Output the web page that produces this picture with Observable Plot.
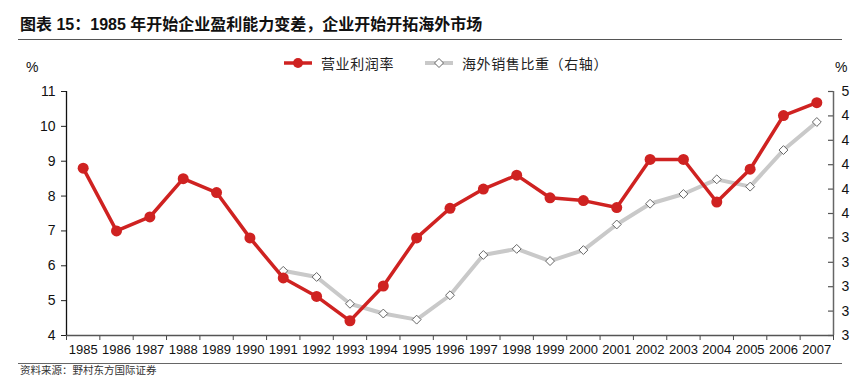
<!DOCTYPE html>
<html>
<head>
<meta charset="utf-8">
<script src="https://cdn.jsdelivr.net/npm/d3@7"></script>
<script src="https://cdn.jsdelivr.net/npm/@observablehq/plot@0.6"></script>
<style>
  html, body { margin: 0; padding: 0; background: #fff; }
  #wrap { position: relative; width: 853px; height: 377px; overflow: hidden; font-family: "Liberation Sans", "Noto Sans CJK SC", sans-serif; }
  #title { position: absolute; left: 20px; top: 11px; font-size: 16px; font-weight: bold; color: #111; font-family: "Liberation Sans", "Noto Sans CJK SC", sans-serif; white-space: nowrap; z-index: 2; }
  #rule1 { position: absolute; left: 18px; width: 824px; top: 39px; height: 0; border-top: 1.3px solid #555; z-index: 2; }
  #rule2 { position: absolute; left: 18px; width: 824px; top: 363px; height: 0; border-top: 1.3px solid #666; z-index: 2; }
  #source { position: absolute; left: 20px; top: 364px; font-size: 10.5px; line-height: 12px; color: #333; font-family: "Noto Sans CJK SC", sans-serif; z-index: 2; }
  #legend { position: absolute; left: 283px; top: 53px; font-size: 14px; letter-spacing: 0.6px; color: #222; font-family: "Noto Sans CJK SC", sans-serif; display: flex; align-items: center; white-space: nowrap; z-index: 2; }
  #legend span.item { display: inline-flex; align-items: center; margin-right: 30px; }
  #legend svg { margin-right: 8px; }
  .pct { position: absolute; top: 59px; font-size: 14px; color: #111; z-index: 2; }
  #chart { position: absolute; left: 0; top: 45px; z-index: 1; }
</style>
</head>
<body>
<div id="wrap">
  <div id="chart"></div>
  <div id="title">图表 15：1985 年开始企业盈利能力变差，企业开始开拓海外市场</div>
  <div id="rule1"></div>
  <div id="legend"></div>
  <div class="pct" style="left:26px">%</div>
  <div class="pct" style="left:835px">%</div>
  <div id="rule2"></div>
  <div id="source">资料来源：野村东方国际证券</div>
</div>
<script>
// ---- data ----
const years = ["1985","1986","1987","1988","1989","1990","1991","1992","1993","1994","1995","1996","1997","1998","1999","2000","2001","2002","2003","2004","2005","2006","2007"];
const profitRate = [8.8, 7.0, 7.4, 8.5, 8.1, 6.8, 5.65, 5.12, 4.42, 5.42, 6.8, 7.65, 8.2, 8.6, 7.95, 7.87, 7.67, 9.05, 9.05, 7.83, 8.77, 10.31, 10.68];
const overseasShare = [null, null, null, null, null, null, 3.53, 3.48, 3.26, 3.18, 3.13, 3.33, 3.66, 3.71, 3.61, 3.70, 3.91, 4.08, 4.16, 4.28, 4.22, 4.52, 4.75];
const leftTicks = [4, 5, 6, 7, 8, 9, 10, 11];
const rightTicks = [3.0, 3.2, 3.4, 3.6, 3.8, 4.0, 4.2, 4.4, 4.6, 4.8, 5.0];
const seriesNames = ["营业利润率", "海外销售比重（右轴）"];

// ---- styles ----
const RED = "#cf2221";
const GRAY = "#c9c9c9";
const leftDomain = [4, 11];
const rightDomain = [3, 5];
const toLeft = v => leftDomain[0] + (v - rightDomain[0]) * (leftDomain[1] - leftDomain[0]) / (rightDomain[1] - rightDomain[0]);

const rows = years.map((y, i) => ({i, year: y, profit: profitRate[i], share: overseasShare[i]}));
const shareRows = rows.filter(d => d.share != null);
const bounds = d3.range(-0.5, years.length, 1);

// legend
const legend = document.getElementById("legend");
legend.innerHTML = `
  <span class="item"><svg width="30" height="12"><line x1="1" y1="6" x2="29" y2="6" stroke="${RED}" stroke-width="3.5"/><circle cx="15" cy="6" r="5" fill="${RED}"/></svg>${seriesNames[0]}</span>
  <span class="item"><svg width="30" height="12"><line x1="1" y1="6" x2="29" y2="6" stroke="${GRAY}" stroke-width="4"/><path d="M15,1.5L19.5,6L15,10.5L10.5,6Z" fill="#fff" stroke="#666" stroke-width="1"/></svg>${seriesNames[1]}</span>`;

const chart = Plot.plot({
  width: 853,
  height: 320,
  marginLeft: 66,
  marginRight: 20,
  marginTop: 46,
  marginBottom: 30,
  style: {fontFamily: "'Liberation Sans', Arial, sans-serif", fontSize: "13px", color: "#111", background: "transparent"},
  x: {type: "linear", domain: [-0.5, years.length - 0.5]},
  y: {type: "linear", domain: leftDomain},
  marks: [
    // left axis
    Plot.axisY({anchor: "left", ticks: leftTicks, tickSize: 5, tickPadding: 6, label: null, fontSize: 14, stroke: "#222", tickFormat: d => d}),
    // right axis
    Plot.axisY({anchor: "right", ticks: rightTicks.map(toLeft), tickSize: 0, tickPadding: 8, label: null, fontSize: 14,
      tickFormat: (d, k) => String(Math.floor(rightTicks[k] + 1e-9))}),
    Plot.ruleY(rightTicks.map(toLeft), {x1: years.length - 0.5 - 0.15, x2: years.length - 0.5, stroke: "#555", strokeWidth: 1.2}),
    // x axis: boundary ticks and labels
    Plot.axisX({ticks: bounds, tickSize: 5, tickFormat: () => "", label: null, stroke: "#444"}),
    Plot.axisX({ticks: d3.range(years.length), tickSize: 0, tickPadding: 9, tickFormat: i => years[i], label: null, fontSize: 13}),
    Plot.ruleY([leftDomain[0]], {stroke: "#555", strokeWidth: 1.5}),
    Plot.ruleX([-0.5], {stroke: "#111", strokeWidth: 1.3}),
    Plot.ruleX([years.length - 0.5], {stroke: "#666", strokeWidth: 1.5}),
    // series
    Plot.line(shareRows, {x: "i", y: d => toLeft(d.share), stroke: GRAY, strokeWidth: 4}),
    Plot.dot(shareRows, {x: "i", y: d => toLeft(d.share), symbol: "diamond2", r: 4, fill: "#fff", stroke: "#666", strokeWidth: 1}),
    Plot.line(rows, {x: "i", y: "profit", stroke: RED, strokeWidth: 3.5}),
    Plot.dot(rows, {x: "i", y: "profit", r: 5.5, fill: RED, stroke: "none"})
  ]
});
document.getElementById("chart").appendChild(chart);
</script>
</body>
</html>
